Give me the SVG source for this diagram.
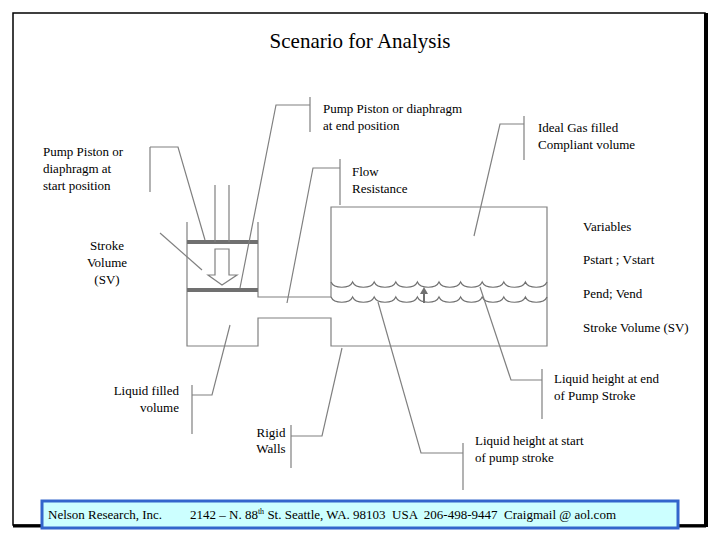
<svg xmlns="http://www.w3.org/2000/svg" width="720" height="540" viewBox="0 0 720 540">
<style>
text{font-family:"Liberation Serif","Times New Roman","DejaVu Serif",serif;font-size:13px;fill:#000}
.l{fill:none;stroke:#808080;stroke-width:1.2}
.w{fill:none;stroke:#707070;stroke-width:1.2}
</style>
<rect width="720" height="540" fill="#fff"/>
<rect x="13" y="13" width="692" height="512" fill="none" stroke="#000" stroke-width="1.5"/>
<line x1="706" y1="13" x2="706" y2="527" stroke="#000" stroke-width="4"/>
<line x1="13" y1="526" x2="706" y2="526" stroke="#000" stroke-width="3"/>
<text x="360" y="48" text-anchor="middle" style="font-size:21px">Scenario for Analysis</text>
<g id="apparatus">
<path class="l" d="M187,222 V346 H258 V318 H331 V346 H547 V207 H331 V297 H258 V222"/>
<line x1="187" y1="242" x2="258" y2="242" stroke="#707070" stroke-width="4"/>
<line x1="187" y1="290" x2="258" y2="290" stroke="#707070" stroke-width="4"/>
<path class="l" d="M215,185 V242 M229,185 V242"/>
<path class="l" d="M215,249 H229 V275 H237 L222,285 L208,275 H215 Z"/>
<path class="w" d="M331,282 c3,7 18.6,7 21.6,0 c3,7 18.6,7 21.6,0 c3,7 18.6,7 21.6,0 c3,7 18.6,7 21.6,0 c3,7 18.6,7 21.6,0 c3,7 18.6,7 21.6,0 c3,7 18.6,7 21.6,0 c3,7 18.6,7 21.6,0 c3,7 18.6,7 21.6,0 c3,7 18.6,7 21.6,0"/>
<path class="w" d="M331,297 c3,7 18.6,7 21.6,0 c3,7 18.6,7 21.6,0 c3,7 18.6,7 21.6,0 c3,7 18.6,7 21.6,0 c3,7 18.6,7 21.6,0 c3,7 18.6,7 21.6,0 c3,7 18.6,7 21.6,0 c3,7 18.6,7 21.6,0 c3,7 18.6,7 21.6,0 c3,7 18.6,7 21.6,0"/>
<line x1="424" y1="303" x2="424" y2="293" stroke="#707070" stroke-width="2"/>
<path d="M420,294 L424,287 L428,294 Z" fill="#707070"/>
</g>
<g id="connectors">
<path class="l" d="M310,97 V132 M310,105 H276 L240,288"/>
<path class="l" d="M150,147 V192 M150,147 H178 L205,240"/>
<path class="l" d="M340,159 V205 M340,168 H313 L287,303"/>
<path class="l" d="M524,116 V160 M524,124 H500 L474,236"/>
<path class="l" d="M160,233 L202,270"/>
<path class="l" d="M192,385 V434 M192,395 H212 L230,325"/>
<path class="l" d="M291,425 V468 M291,436 H322 L342,348"/>
<path class="l" d="M463,443 V490 M463,453 H421 L378,302"/>
<path class="l" d="M542,369 V419 M542,380 H511 L480,287"/>
</g>
<g id="labels">
<text x="323" y="113">Pump Piston or diaphragm</text>
<text x="323" y="130">at end position</text>
<text x="43" y="156">Pump Piston or</text>
<text x="43" y="173">diaphragm at</text>
<text x="43" y="190">start position</text>
<text x="352" y="176">Flow</text>
<text x="352" y="193">Resistance</text>
<text x="538" y="132">Ideal Gas filled</text>
<text x="538" y="149">Compliant volume</text>
<text x="583" y="231">Variables</text>
<text x="583" y="264">Pstart ; Vstart</text>
<text x="583" y="298">Pend; Vend</text>
<text x="583" y="332">Stroke Volume (SV)</text>
<text x="107" y="250" text-anchor="middle">Stroke</text>
<text x="107" y="267" text-anchor="middle">Volume</text>
<text x="107" y="284" text-anchor="middle">(SV)</text>
<text x="179" y="395" text-anchor="end">Liquid filled</text>
<text x="179" y="412" text-anchor="end">volume</text>
<text x="271" y="437" text-anchor="middle">Rigid</text>
<text x="271" y="453" text-anchor="middle">Walls</text>
<text x="475" y="445">Liquid height at start</text>
<text x="475" y="462">of pump stroke</text>
<text x="554" y="383">Liquid height at end</text>
<text x="554" y="400">of Pump Stroke</text>
</g>
<g id="footer">
<rect x="42" y="501" width="636" height="27" fill="#ccffff" stroke="#3366cc" stroke-width="3"/>
<text x="48" y="519">Nelson Research, Inc.</text>
<text x="190" y="519" xml:space="preserve">2142 – N. 88<tspan dy="-5" style="font-size:8px">th</tspan><tspan dy="5"> St. Seattle, WA. 98103  USA  206-498-9447  Craigmail @ aol.com</tspan></text>
</g>
</svg>
